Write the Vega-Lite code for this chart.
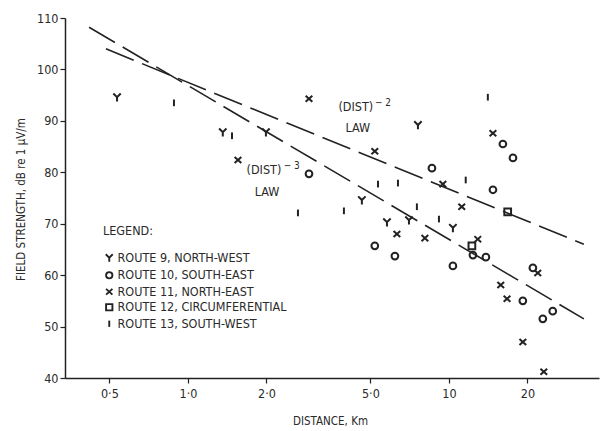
{
  "$schema": "https://vega.github.io/schema/vega-lite/v6.json",
  "width": 534,
  "height": 360,
  "autosize": {"type": "none"},
  "padding": {"left": 65, "top": 18, "right": 7, "bottom": 53},
  "background": "white",
  "config": {
    "view": {"stroke": null},
    "font": "DejaVu Sans Condensed, DejaVu Sans",
    "axis": {
      "domainColor": "#222", "domainWidth": 1.5, "tickColor": "#222", "tickWidth": 1.2, "tickSize": 5,
      "grid": false, "labelFont": "DejaVu Sans Condensed, DejaVu Sans", "labelFontSize": 12.5, "labelColor": "#2a2a2a",
      "titleFont": "DejaVu Sans Condensed, DejaVu Sans", "titleFontSize": 11.5, "titleFontWeight": "normal", "titleColor": "#2a2a2a"
    },
    "legend": {
      "orient": "none", "legendX": 38, "legendY": 207,
      "titleFont": "DejaVu Sans Condensed, DejaVu Sans", "titleFontSize": 12.5, "titleFontWeight": "normal", "titleColor": "#2a2a2a",
      "titlePadding": 14, "labelFont": "DejaVu Sans Condensed, DejaVu Sans", "labelFontSize": 12.5, "labelColor": "#2a2a2a", "labelLimit": 0,
      "symbolSize": 40, "symbolStrokeWidth": 1.9, "symbolStrokeColor": "#222", "symbolFillColor": "transparent",
      "rowPadding": 1.5, "labelOffset": 2, "padding": 0
    }
  },
  "encoding": {
    "x": {
      "field": "d", "type": "quantitative",
      "scale": {"type": "log", "domain": [0.338, 37.6], "nice": false, "zero": false},
      "axis": {
        "values": [0.5, 1, 2, 5, 10, 20],
        "labelExpr": "datum.value == 0.5 ? '0·5' : datum.value == 1 ? '1·0' : datum.value == 2 ? '2·0' : datum.value == 5 ? '5·0' : format(datum.value, 'd')",
        "labelPadding": 4,
        "title": "DISTANCE, Km", "titleX": 265, "titleY": 43, "titleBaseline": "middle", "titleAnchor": "middle"
      }
    },
    "y": {
      "field": "v", "type": "quantitative",
      "scale": {"domain": [40, 110], "nice": false, "zero": false},
      "axis": {
        "values": [40, 50, 60, 70, 80, 90, 100, 110],
        "labelPadding": 2,
        "title": "FIELD STRENGTH, dB re 1 μV/m", "titleX": -44, "titleY": 181, "titleBaseline": "middle", "titleAlign": "center", "titleAngle": -90
      }
    }
  },
  "layer": [
    {
      "data": {"values": [
        {"law": "d2", "d": 0.485, "v": 104.0},
        {"law": "d2", "d": 32.9, "v": 66.0},
        {"law": "d3", "d": 0.418, "v": 108.2},
        {"law": "d3", "d": 32.9, "v": 51.5}
      ]},
      "mark": {"type": "line", "color": "#222", "strokeWidth": 1.6, "strokeDash": [30, 9]},
      "encoding": {"detail": {"field": "law"}}
    },
    {
      "data": {"values": [
        {"route": "ROUTE 9, NORTH-WEST", "d": 0.535, "v": 94.6},
        {"route": "ROUTE 9, NORTH-WEST", "d": 1.36, "v": 87.8},
        {"route": "ROUTE 9, NORTH-WEST", "d": 1.99, "v": 87.8},
        {"route": "ROUTE 9, NORTH-WEST", "d": 4.64, "v": 74.6},
        {"route": "ROUTE 9, NORTH-WEST", "d": 5.79, "v": 70.3},
        {"route": "ROUTE 9, NORTH-WEST", "d": 7.03, "v": 70.7},
        {"route": "ROUTE 9, NORTH-WEST", "d": 10.36, "v": 69.2},
        {"route": "ROUTE 9, NORTH-WEST", "d": 7.61, "v": 89.2},
        {"route": "ROUTE 10, SOUTH-EAST", "d": 2.91, "v": 79.7},
        {"route": "ROUTE 10, SOUTH-EAST", "d": 5.2, "v": 65.7},
        {"route": "ROUTE 10, SOUTH-EAST", "d": 6.21, "v": 63.7},
        {"route": "ROUTE 10, SOUTH-EAST", "d": 10.36, "v": 61.8},
        {"route": "ROUTE 10, SOUTH-EAST", "d": 12.36, "v": 63.9},
        {"route": "ROUTE 10, SOUTH-EAST", "d": 13.86, "v": 63.5},
        {"route": "ROUTE 10, SOUTH-EAST", "d": 20.98, "v": 61.4},
        {"route": "ROUTE 10, SOUTH-EAST", "d": 19.2, "v": 55.0},
        {"route": "ROUTE 10, SOUTH-EAST", "d": 22.9, "v": 51.5},
        {"route": "ROUTE 10, SOUTH-EAST", "d": 25.0, "v": 53.0},
        {"route": "ROUTE 10, SOUTH-EAST", "d": 16.1, "v": 85.5},
        {"route": "ROUTE 10, SOUTH-EAST", "d": 17.6, "v": 82.8},
        {"route": "ROUTE 10, SOUTH-EAST", "d": 14.75, "v": 76.6},
        {"route": "ROUTE 10, SOUTH-EAST", "d": 8.61, "v": 80.8},
        {"route": "ROUTE 11, NORTH-EAST", "d": 1.555, "v": 82.4},
        {"route": "ROUTE 11, NORTH-EAST", "d": 2.91, "v": 94.3},
        {"route": "ROUTE 11, NORTH-EAST", "d": 5.2, "v": 84.1},
        {"route": "ROUTE 11, NORTH-EAST", "d": 9.48, "v": 77.7},
        {"route": "ROUTE 11, NORTH-EAST", "d": 11.2, "v": 73.3},
        {"route": "ROUTE 11, NORTH-EAST", "d": 14.75, "v": 87.6},
        {"route": "ROUTE 11, NORTH-EAST", "d": 6.32, "v": 68.0},
        {"route": "ROUTE 11, NORTH-EAST", "d": 8.09, "v": 67.2},
        {"route": "ROUTE 11, NORTH-EAST", "d": 12.9, "v": 67.0},
        {"route": "ROUTE 11, NORTH-EAST", "d": 15.8, "v": 58.1},
        {"route": "ROUTE 11, NORTH-EAST", "d": 16.7, "v": 55.4},
        {"route": "ROUTE 11, NORTH-EAST", "d": 21.9, "v": 60.4},
        {"route": "ROUTE 11, NORTH-EAST", "d": 19.2, "v": 47.0},
        {"route": "ROUTE 11, NORTH-EAST", "d": 23.1, "v": 41.2},
        {"route": "ROUTE 12, CIRCUMFERENTIAL", "d": 16.8, "v": 72.3},
        {"route": "ROUTE 12, CIRCUMFERENTIAL", "d": 12.25, "v": 65.7},
        {"route": "ROUTE 13, SOUTH-WEST", "d": 0.884, "v": 93.5},
        {"route": "ROUTE 13, SOUTH-WEST", "d": 1.475, "v": 87.1},
        {"route": "ROUTE 13, SOUTH-WEST", "d": 5.35, "v": 77.7},
        {"route": "ROUTE 13, SOUTH-WEST", "d": 6.38, "v": 77.9},
        {"route": "ROUTE 13, SOUTH-WEST", "d": 11.6, "v": 78.5},
        {"route": "ROUTE 13, SOUTH-WEST", "d": 2.64, "v": 72.1},
        {"route": "ROUTE 13, SOUTH-WEST", "d": 3.96, "v": 72.5},
        {"route": "ROUTE 13, SOUTH-WEST", "d": 7.54, "v": 73.3},
        {"route": "ROUTE 13, SOUTH-WEST", "d": 9.16, "v": 70.9},
        {"route": "ROUTE 13, SOUTH-WEST", "d": 14.1, "v": 94.6}
      ]},
      "mark": {"type": "point", "filled": false, "color": "#222", "strokeWidth": 2, "size": 45, "opacity": 1},
      "encoding": {
        "shape": {
          "field": "route", "type": "nominal",
          "scale": {
            "domain": ["ROUTE 9, NORTH-WEST", "ROUTE 10, SOUTH-EAST", "ROUTE 11, NORTH-EAST", "ROUTE 12, CIRCUMFERENTIAL", "ROUTE 13, SOUTH-WEST"],
            "range": ["M-1.1,-1.1L0,0L1.1,-1.1M0,0L0,1.3", "circle", "M-1,-0.9L1,0.9M1,-0.9L-1,0.9", "square", "M0,-1L0,1"]
          },
          "legend": {"title": "LEGEND:"}
        }
      }
    },
    {
      "data": {"values": [
        {"d": 4.4, "v": 92.7, "t": "(DIST)"},
        {"d": 4.48, "v": 88.6, "t": "LAW"},
        {"d": 1.955, "v": 80.4, "t": "(DIST)"},
        {"d": 2.01, "v": 76.2, "t": "LAW"}
      ]},
      "mark": {"type": "text", "fontSize": 12.5, "color": "#2a2a2a", "font": "DejaVu Sans Condensed, DejaVu Sans"},
      "encoding": {"text": {"field": "t"}}
    },
    {
      "data": {"values": [
        {"d": 5.59, "v": 93.5, "t": "− 2"},
        {"d": 2.5, "v": 81.2, "t": "− 3"}
      ]},
      "mark": {"type": "text", "fontSize": 10, "color": "#2a2a2a", "font": "DejaVu Sans Condensed, DejaVu Sans"},
      "encoding": {"text": {"field": "t"}}
    }
  ]
}
